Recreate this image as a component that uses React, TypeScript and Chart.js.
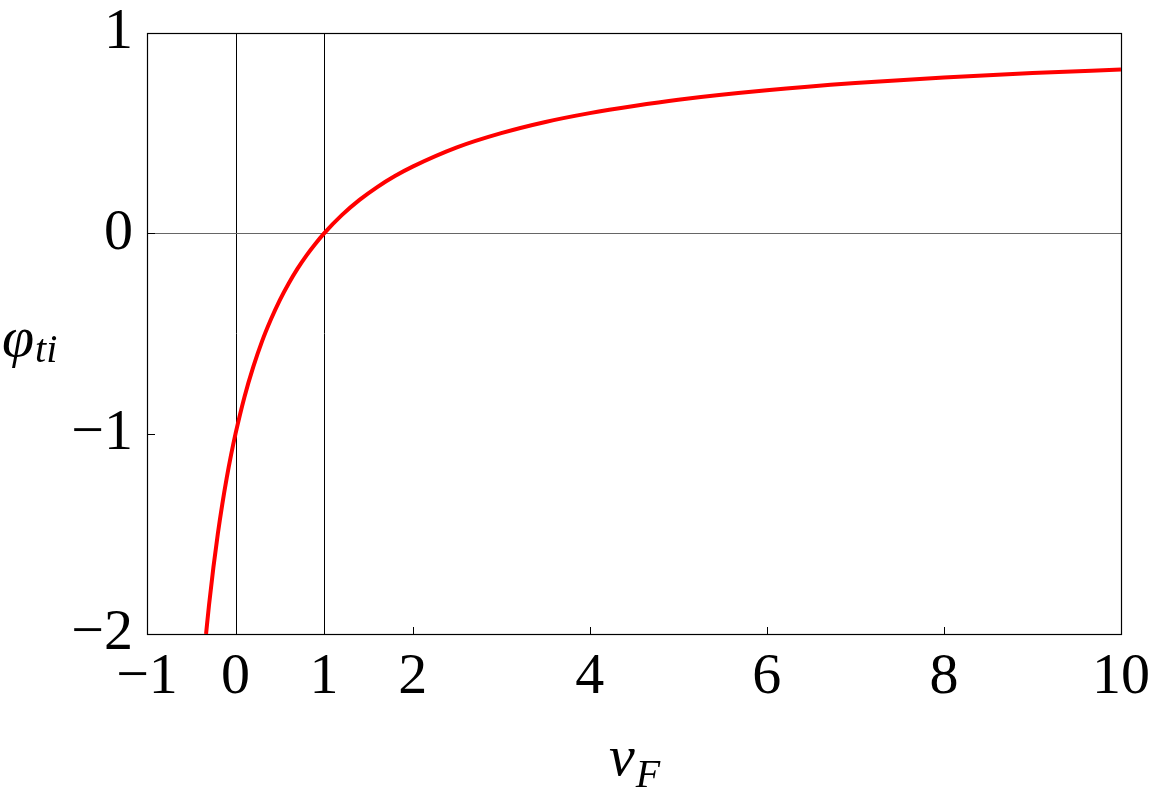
import React, { useEffect, useRef } from "react";
import { Chart, registerables } from "chart.js";

Chart.register(...registerables);

// Curve values
const vF = [-0.333, -0.3, -0.25, -0.2, -0.15, -0.1, -0.05, 0, 0.1, 0.2, 0.3, 0.4, 0.5, 0.6, 0.7, 0.8, 0.9, 1, 1.2, 1.4, 1.6, 1.8, 2, 2.5, 3, 3.5, 4, 4.5, 5, 6, 7, 8, 9, 10];
const phiTi = [-2, -1.857, -1.667, -1.5, -1.353, -1.222, -1.105, -1, -0.818, -0.667, -0.538, -0.429, -0.333, -0.25, -0.176, -0.111, -0.053, 0, 0.091, 0.167, 0.231, 0.286, 0.333, 0.429, 0.5, 0.556, 0.6, 0.636, 0.667, 0.714, 0.75, 0.778, 0.8, 0.818];

const xTicks = [-1, 0, 1, 2, 4, 6, 8, 10];
const yTicks = [-2, -1, 0, 1];
const xRefLines = [0, 1];
const yRefLines = [0];

const SERIF = "'Liberation Serif', 'Times New Roman', serif";

const fmt = (v: number) => (v < 0 ? "\u2212" + Math.abs(v) : String(v));

const framePlugin = {
  id: "framePlugin",
  beforeDatasetsDraw(chart: any) {
    const { ctx, chartArea: a, scales } = chart;
    const xs = scales.x;
    const ys = scales.y;
    ctx.save();
    ctx.lineWidth = 1;
    ctx.strokeStyle = "#000";
    xRefLines.forEach((v) => {
      const px = Math.round(xs.getPixelForValue(v)) + 0.5;
      ctx.beginPath();
      ctx.moveTo(px, a.top);
      ctx.lineTo(px, a.bottom);
      ctx.stroke();
    });
    ctx.strokeStyle = "#666";
    yRefLines.forEach((v) => {
      const py = Math.round(ys.getPixelForValue(v)) + 0.5;
      ctx.beginPath();
      ctx.moveTo(a.left, py);
      ctx.lineTo(a.right, py);
      ctx.stroke();
    });
    ctx.strokeStyle = "#000";
    xTicks.forEach((v) => {
      const px = Math.round(xs.getPixelForValue(v)) + 0.5;
      ctx.beginPath();
      ctx.moveTo(px, a.bottom);
      ctx.lineTo(px, a.bottom - 7);
      ctx.stroke();
    });
    yTicks.forEach((v) => {
      const py = Math.round(ys.getPixelForValue(v)) + 0.5;
      ctx.beginPath();
      ctx.moveTo(a.left, py);
      ctx.lineTo(a.left + 8, py);
      ctx.stroke();
    });
    ctx.lineWidth = 1.2;
    ctx.strokeRect(Math.round(a.left) + 0.5, Math.round(a.top) + 0.5, Math.round(a.right - a.left), Math.round(a.bottom - a.top));
    ctx.restore();
  },
  afterDraw(chart: any) {
    const { ctx, chartArea: a } = chart;
    ctx.save();
    ctx.fillStyle = "#000";
    ctx.textBaseline = "alphabetic";
    ctx.textAlign = "left";
    const big = "italic 58px " + SERIF;
    const small = "italic 40px " + SERIF;
    ctx.font = big;
    const wv = ctx.measureText("v").width;
    ctx.font = small;
    const wF = ctx.measureText("F").width;
    const cx = (a.left + a.right) / 2;
    const x0 = cx - (wv + wF) / 2;
    ctx.font = big;
    ctx.fillText("v", x0, a.bottom + 141);
    ctx.font = small;
    ctx.fillText("F", x0 + wv + 1, a.bottom + 153);
    ctx.font = big;
    const wp = ctx.measureText("\u03C6").width;
    ctx.fillText("\u03C6", 2, 356);
    ctx.font = small;
    ctx.fillText("ti", 2 + wp + 1, 362);
    ctx.restore();
  },
};

export default function App() {
  const ref = useRef<HTMLCanvasElement | null>(null);
  useEffect(() => {
    if (!ref.current) return;
    const chart = new Chart(ref.current, {
      type: "line",
      data: {
        datasets: [
          {
            data: vF.map((x, i) => ({ x, y: phiTi[i] })),
            borderColor: "#ff0000",
            borderWidth: 4,
            pointRadius: 0,
            cubicInterpolationMode: "monotone",
            fill: false,
          },
        ],
      },
      options: {
        animation: false,
        responsive: false,
        devicePixelRatio: 1,
        layout: { padding: { left: 67, right: 31, top: 33, bottom: 78 } },
        plugins: { legend: { display: false }, tooltip: { enabled: false } },
        scales: {
          x: {
            type: "linear",
            min: -1,
            max: 10,
            afterBuildTicks: (s: any) => {
              s.ticks = xTicks.map((v) => ({ value: v }));
            },
            afterFit: (s: any) => {
              s.height = 80;
              s.paddingLeft = 0;
              s.paddingRight = 0;
            },
            grid: { display: false, drawTicks: false },
            border: { display: false },
            ticks: {
              padding: 15,
              color: "#000",
              maxRotation: 0,
              autoSkip: false,
              font: { family: SERIF, size: 58, lineHeight: 1 },
              callback: (v: any) => fmt(Number(v)),
            },
          },
          y: {
            type: "linear",
            min: -2,
            max: 1,
            afterBuildTicks: (s: any) => {
              s.ticks = yTicks.map((v) => ({ value: v }));
            },
            afterFit: (s: any) => {
              s.width = 80;
              s.paddingTop = 0;
              s.paddingBottom = 0;
            },
            grid: { display: false, drawTicks: false },
            border: { display: false },
            ticks: {
              padding: 14,
              color: "#000",
              autoSkip: false,
              font: { family: SERIF, size: 58, lineHeight: 1 },
              callback: (v: any) => fmt(Number(v)),
            },
          },
        },
      },
      plugins: [framePlugin],
    } as any);
    return () => chart.destroy();
  }, []);
  return (
    <div style={{ position: "absolute", left: 0, top: 0, width: 1152, height: 792, background: "#fff" }}>
      <canvas ref={ref} width={1152} height={792} style={{ width: 1152, height: 792, display: "block" }} />
    </div>
  );
}
